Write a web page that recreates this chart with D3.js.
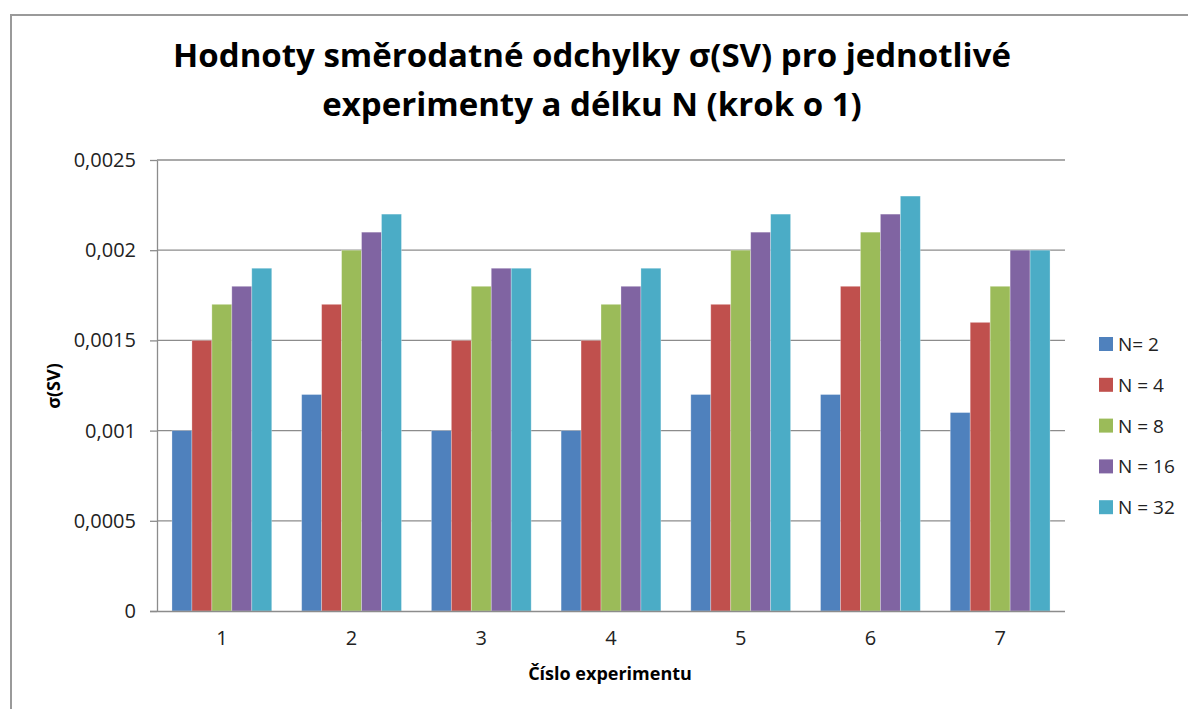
<!DOCTYPE html>
<html>
<head>
<meta charset="utf-8">
<script src="https://cdn.jsdelivr.net/npm/d3@7"></script>
<style>
  body { margin: 0; background: #fff; }
  svg { display: block; font-family: "Open Sans", "Noto Sans", sans-serif; }
</style>
</head>
<body>
<div id="chart"></div>
<script>
// data
const experiments = ['1', '2', '3', '4', '5', '6', '7'];
const seriesNames = ['N= 2', 'N = 4', 'N = 8', 'N = 16', 'N = 32'];
const n2 = [0.001, 0.0012, 0.001, 0.001, 0.0012, 0.0012, 0.0011];
const n4 = [0.0015, 0.0017, 0.0015, 0.0015, 0.0017, 0.0018, 0.0016];
const n8 = [0.0017, 0.002, 0.0018, 0.0017, 0.002, 0.0021, 0.0018];
const n16 = [0.0018, 0.0021, 0.0019, 0.0018, 0.0021, 0.0022, 0.002];
const n32 = [0.0019, 0.0022, 0.0019, 0.0019, 0.0022, 0.0023, 0.002];
const yTicks = [0, 0.0005, 0.001, 0.0015, 0.002, 0.0025];
const colors = ['#4F81BD', '#C0504D', '#9BBB59', '#8064A2', '#4BACC6'];

const series = [n2, n4, n8, n16, n32];

const width = 1188, height = 709;
const plot = { left: 157, right: 1065, top: 160, bottom: 611 };

const svg = d3.select('#chart').append('svg')
  .attr('width', width)
  .attr('height', height);

// outer chart frame (only top and left edges are visible)
svg.append('path')
  .attr('d', `M11,${height} V15 H${width}`)
  .attr('fill', 'none')
  .attr('stroke', '#9a9a9a')
  .attr('stroke-width', 2);

// excel style: gap width 150%, half of the gap on each side of a group
const gap = 1.5 / 6.5;
const x0 = d3.scaleBand()
  .domain(experiments)
  .range([plot.left, plot.right])
  .paddingInner(gap)
  .paddingOuter(gap / 2);

const x1 = d3.scaleBand()
  .domain(d3.range(seriesNames.length))
  .range([0, x0.bandwidth()]);

const y = d3.scaleLinear()
  .domain([0, 0.0025])
  .range([plot.bottom, plot.top]);

const fmt = d => d === 0 ? '0' : String(d).replace('.', ',');

// gridlines
svg.append('g')
  .selectAll('line')
  .data(yTicks.filter(d => d > 0))
  .join('line')
  .attr('x1', plot.left)
  .attr('x2', plot.right)
  .attr('y1', d => y(d))
  .attr('y2', d => y(d))
  .attr('stroke', '#8c8c8c')
  .attr('stroke-width', 1.3);

// y axis
const yAxis = svg.append('g')
  .attr('transform', `translate(${plot.left},0)`)
  .call(d3.axisLeft(y).tickValues(yTicks).tickFormat(fmt).tickSize(7).tickSizeOuter(0).tickPadding(14));
yAxis.select('.domain').attr('stroke', '#8c8c8c').attr('stroke-width', 1.3);
yAxis.selectAll('.tick line').attr('stroke', '#8c8c8c').attr('stroke-width', 1.3);
yAxis.selectAll('.tick text')
  .attr('font-size', 20)
  .attr('font-family', '"Open Sans", sans-serif')
  .attr('fill', '#222');

// bars
const groups = svg.append('g')
  .selectAll('g')
  .data(experiments)
  .join('g')
  .attr('transform', d => `translate(${x0(d)},0)`);

groups.selectAll('rect')
  .data((d, i) => series.map((s, k) => ({ k, v: s[i] })))
  .join('rect')
  .attr('x', d => x1(d.k))
  .attr('y', d => y(d.v))
  .attr('width', x1.bandwidth())
  .attr('height', d => y(0) - y(d.v))
  .attr('fill', d => colors[d.k])
  .attr('stroke', 'rgba(255,255,255,0.35)')
  .attr('stroke-width', 0.8);

// x axis
const xAxis = svg.append('g')
  .attr('transform', `translate(0,${plot.bottom})`)
  .call(d3.axisBottom(x0).tickSize(0).tickPadding(20));
xAxis.select('.domain')
  .attr('d', `M${plot.left - 7},0.5H${plot.right}`)
  .attr('stroke', '#8c8c8c')
  .attr('stroke-width', 1.3);
xAxis.selectAll('.tick text')
  .attr('font-size', 20)
  .attr('font-family', '"Open Sans", sans-serif')
  .attr('fill', '#222');

// titles
const title = svg.append('text')
  .attr('text-anchor', 'middle')
  .attr('font-weight', 'bold')
  .attr('font-size', 33)
  .attr('fill', '#000');
title.append('tspan').attr('x', 592).attr('y', 67)
  .text('Hodnoty směrodatné odchylky σ(SV) pro jednotlivé');
title.append('tspan').attr('x', 592).attr('y', 116)
  .text('experimenty a délku N (krok o 1)');

svg.append('text')
  .attr('x', 610)
  .attr('y', 680)
  .attr('text-anchor', 'middle')
  .attr('font-weight', 'bold')
  .attr('font-size', 18)
  .text('Číslo experimentu');

svg.append('text')
  .attr('transform', 'translate(60,386) rotate(-90)')
  .attr('text-anchor', 'middle')
  .attr('font-weight', 'bold')
  .attr('font-size', 18)
  .text('σ(SV)');

// legend
const legend = svg.append('g')
  .selectAll('g')
  .data(seriesNames)
  .join('g')
  .attr('transform', (d, i) => `translate(1099,${344 + i * 40.8})`);
legend.append('rect')
  .attr('x', 0)
  .attr('y', -7)
  .attr('width', 14)
  .attr('height', 14)
  .attr('fill', (d, i) => colors[i]);
legend.append('text')
  .attr('x', 19)
  .attr('y', 7)
  .attr('font-size', 19)
  .attr('fill', '#222')
  .text(d => d);
</script>
</body>
</html>
